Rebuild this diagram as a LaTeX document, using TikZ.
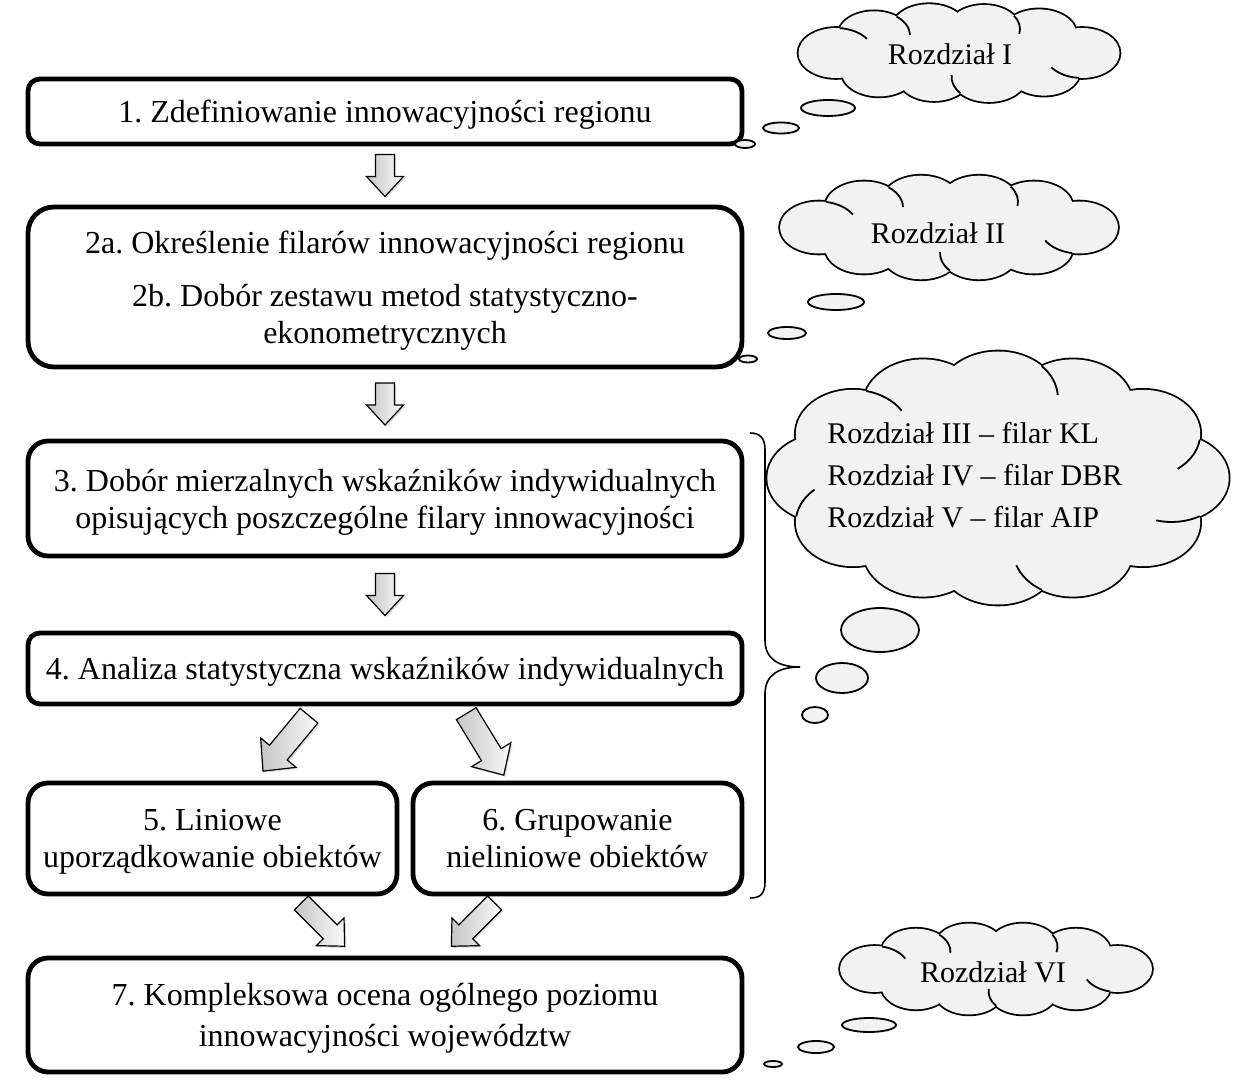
\documentclass[tikz,border=0pt]{standalone}
\usepackage{fontspec}
\setmainfont{Liberation Serif}
\usetikzlibrary{calc,shapes.geometric,shadows}
\frenchspacing

\definecolor{cloudgray}{HTML}{F2F2F2}

\tikzset{
  box/.style={draw, line width=2.4pt, rounded corners=#1, align=center,
    font=\fontsize{16}{18.5}\selectfont, inner sep=0pt, text depth=0pt},
  box/.default=6pt,
  arrowfill/.style={draw, line width=0.6pt, left color=gray!45, right color=gray!5,
    drop shadow={shadow xshift=0.8pt, shadow yshift=-0.8pt, opacity=0.3}},
  pics/downarrow/.style={code={
    \path[arrowfill] (-21,-9.5) -- (1,-9.5) -- (1,-18.5) -- (21,0) -- (1,18.5)
      -- (1,9.5) -- (-21,9.5) -- cycle;}},
  pics/slantarrow/.style={code={
    \path[arrowfill] (-36,-11.5) -- (12,-11.5) -- (12,-23) -- (36,0) -- (12,23)
      -- (12,11.5) -- (-36,11.5) -- cycle;}},
  bubble/.style={ellipse, draw, line width=0.9pt, fill=cloudgray, inner sep=0pt},
  cloudtext/.style={font=\fontsize{15}{21}\selectfont, align=left, inner sep=0pt},
}

% a cloud as a union of flat puffs (x radius = #1 times y radius):
% outlines first, then the fill hides the inner strokes
\newcommand\cloudbody[3]{%
  \foreach \qx/\qy/\qr in {#2} {%
    \pgfmathsetmacro\qrx{#1*\qr}%
    \draw[line width=1.8pt] (\qx,\qy) ellipse[x radius=\qrx, y radius=\qr];}
  \foreach \qx/\qy/\qr in {#2} {%
    \pgfmathsetmacro\qrx{#1*\qr}%
    \fill[cloudgray] (\qx,\qy) ellipse[x radius=\qrx, y radius=\qr];}
  \fill[cloudgray] #3;}

% inner arc of puff A continuing past its outer crossing with the next puff B
\newcommand\cloudtail[8]{%
  \pgfmathsetmacro\tdx{(#5-#2)/#1}%
  \pgfmathsetmacro\tdy{#6-#3}%
  \pgfmathsetmacro\tph{atan2(\tdy,\tdx)}%
  \pgfmathsetmacro\tdd{veclen(\tdx,\tdy)}%
  \pgfmathsetmacro\tal{acos(min(1,(\tdd*\tdd+#4*#4-#7*#7)/(2*\tdd*#4)))}%
  \pgfmathsetmacro\tsa{\tph-\tal}%
  \pgfmathsetmacro\tea{\tsa+#8}%
  \pgfmathsetmacro\trx{#1*#4}%
  \pgfmathsetmacro\tsx{#2+\trx*cos(\tsa)}%
  \pgfmathsetmacro\tsy{#3+#4*sin(\tsa)}%
  \draw[line width=0.9pt] (\tsx,\tsy) arc[start angle=\tsa, end angle=\tea,
    x radius=\trx, y radius=#4];}

\begin{document}
\begin{tikzpicture}[x=0.5pt, y=-0.5pt]
\useasboundingbox (0,0) rectangle (1240,1079);

% process steps
\node[box=6pt, minimum width=357pt, minimum height=32.5pt] (b1) at (385,111.5)
  {1. Zdefiniowanie innowacyjności regionu};
\node[box=13pt, minimum width=357pt, minimum height=80pt] (b2) at (385,287)
  {2a. Określenie filarów innowacyjności regionu\\[8pt]
   2b. Dobór zestawu metod statystyczno-\\ekonometrycznych};
\node[box=10pt, minimum width=357pt, minimum height=57.5pt] (b3) at (385,498.5)
  {3. Dobór mierzalnych wskaźników indywidualnych\\
   opisujących poszczególne filary innowacyjności};
\node[box=6pt, minimum width=357pt, minimum height=35.5pt] (b4) at (385,668.5)
  {4. Analiza statystyczna wskaźników indywidualnych};
\node[box=10pt, minimum width=184.5pt, minimum height=55.5pt] (b5) at (212.5,838.5)
  {5. Liniowe\\uporządkowanie obiektów};
\node[box=10pt, minimum width=164.5pt, minimum height=55.5pt] (b6) at (577.5,838.5)
  {6. Grupowanie\\nieliniowe obiektów};
\node[box=10pt, minimum width=357pt, minimum height=57pt] (b7) at (385,1015)
  {7. Kompleksowa ocena ogólnego poziomu\\[2pt]innowacyjności województw};

% block arrows between the steps
\coordinate (a12) at ($(b1.south)!0.5!(b2.north)$);
\coordinate (a23) at ($(b2.south)!0.5!(b3.north)$);
\coordinate (a34) at ($(b3.south)!0.5!(b4.north)$);
\coordinate (a45) at ($(b4.south)+(-99,37)$);
\coordinate (a46) at ($(b4.south)+(100,38)$);
\coordinate (a57) at ($(b7.north)+(-62,-31)$);
\coordinate (a67) at ($(b7.north)+(88,-31)$);
\pic[rotate=-90] at (a12) {downarrow};
\pic[rotate=-90] at (a23) {downarrow};
\pic[rotate=-90] at (a34) {downarrow};
\pic[rotate=-129.7] at (a45) {slantarrow};
\pic[rotate=-58.6] at (a46) {slantarrow};
\pic[rotate=-45, scale=0.85] at (a57) {slantarrow};
\pic[rotate=-135, scale=0.85] at (a67) {slantarrow};

% brace grouping steps 3 to 6
\draw[line width=0.8pt] (750,433) .. controls (760,433) and (765,438) .. (765,450)
  -- (765,640) .. controls (765,660) and (780,667) .. (800,667)
  .. controls (780,667) and (765,674) .. (765,694)
  -- (765,882) .. controls (765,894) and (760,898) .. (750,898);

% cloud: chapter I
\cloudbody{1.5}{1082/53/25, 874/35.3/24, 929/29.2/25, 984/29/24, 1039/34.4/25,
  1044/71.6/24, 989/77/25, 934/77/24, 879/71.4/25, 836/53/25}
  {(959,53) ellipse[x radius=123, y radius=24.5]}
\cloudtail{1.5}{874}{35.3}{24}{929}{29.2}{25}{50}
\cloudtail{1.5}{984}{29}{24}{1039}{34.4}{25}{45}
\cloudtail{1.5}{1082}{53}{25}{1044}{71.6}{24}{50}
\cloudtail{1.5}{989}{77}{25}{934}{77}{24}{45}
\cloudtail{1.5}{836}{53}{25}{874}{35.3}{24}{50}
\node[cloudtext] (c1) at (950,54) {Rozdział I};
\node[bubble, minimum width=27pt, minimum height=8pt] (c1a) at (828,108) {};
\node[bubble, minimum width=18pt, minimum height=5.5pt] (c1b) at (781,128) {};
\node[bubble, minimum width=10pt, minimum height=4pt] (c1c) at (745,144) {};

% cloud: chapter II
\cloudbody{1.5}{1079/227.5/26, 864/207.5/26, 921/201.7/26, 979/201.7/26, 1034/207.5/26,
  1034/247.5/26, 979/253.3/26, 921/253.3/26, 864/247.5/26, 819/227.5/26}
  {(949,227.5) ellipse[x radius=130, y radius=26.5]}
\cloudtail{1.5}{864}{207.5}{26}{921}{201.7}{26}{50}
\cloudtail{1.5}{979}{201.7}{26}{1034}{207.5}{26}{45}
\cloudtail{1.5}{1079}{227.5}{26}{1034}{247.5}{26}{50}
\cloudtail{1.5}{979}{253.3}{26}{921}{253.3}{26}{45}
\cloudtail{1.5}{819}{227.5}{26}{864}{207.5}{26}{50}
\node[cloudtext] (c2) at (938,233) {Rozdział II};
\node[bubble, minimum width=28pt, minimum height=8pt] (c2a) at (836,302) {};
\node[bubble, minimum width=19pt, minimum height=6pt] (c2b) at (787,333) {};
\node[bubble, minimum width=9pt, minimum height=3.5pt] (c2c) at (748,359) {};

% cloud: chapters III to V
\cloudbody{1.3}{1171.5/478/44, 853/433.8/44, 923/405.4/46, 998/397.5/46, 1073/405.4/46,
  1143/433.8/44, 1143/522.2/44, 1073/550.6/46, 998/558.5/46, 923/550.6/46,
  853/522.2/44, 824.5/478/44}
  {(998,478) ellipse[x radius=173.5, y radius=80.5]}
\cloudtail{1.3}{853}{433.8}{44}{923}{405.4}{46}{45}
\cloudtail{1.3}{998}{397.5}{46}{1073}{405.4}{46}{40}
\cloudtail{1.3}{1143}{433.8}{44}{1171.5}{478}{44}{45}
\cloudtail{1.3}{1171.5}{478}{44}{1143}{522.2}{44}{45}
\cloudtail{1.3}{1073}{550.6}{46}{998}{558.5}{46}{40}
\cloudtail{1.3}{853}{522.2}{44}{824.5}{478}{44}{40}
\node[cloudtext, anchor=west] (c3) at (827,475)
  {Rozdział III – filar KL\\Rozdział IV – filar DBR\\Rozdział V – filar AIP};
\node[bubble, minimum width=39pt, minimum height=22pt] (c3a) at (880,630) {};
\node[bubble, minimum width=26pt, minimum height=15pt] (c3b) at (842,678) {};
\node[bubble, minimum width=13pt, minimum height=8pt] (c3c) at (815,715) {};

% cloud: chapter VI
\cloudbody{1.5}{1117.5/969/23, 916/951.7/23, 969/946.6/23, 1023/946.6/23, 1076/951.7/23,
  1076/986.3/23, 1023/991.4/23, 969/991.4/23, 916/986.3/23, 874.5/969/23}
  {(996,969) ellipse[x radius=121.5, y radius=23]}
\cloudtail{1.5}{916}{951.7}{23}{969}{946.6}{23}{50}
\cloudtail{1.5}{1023}{946.6}{23}{1076}{951.7}{23}{45}
\cloudtail{1.5}{1117.5}{969}{23}{1076}{986.3}{23}{50}
\cloudtail{1.5}{1023}{991.4}{23}{969}{991.4}{23}{45}
\cloudtail{1.5}{874.5}{969}{23}{916}{951.7}{23}{50}
\node[cloudtext] (c4) at (993,972) {Rozdział VI};
\node[bubble, minimum width=27pt, minimum height=7pt] (c4a) at (869,1025) {};
\node[bubble, minimum width=18pt, minimum height=6pt] (c4b) at (816,1047) {};
\node[bubble, minimum width=9pt, minimum height=3pt] (c4c) at (773,1064) {};
\end{tikzpicture}
\end{document}
